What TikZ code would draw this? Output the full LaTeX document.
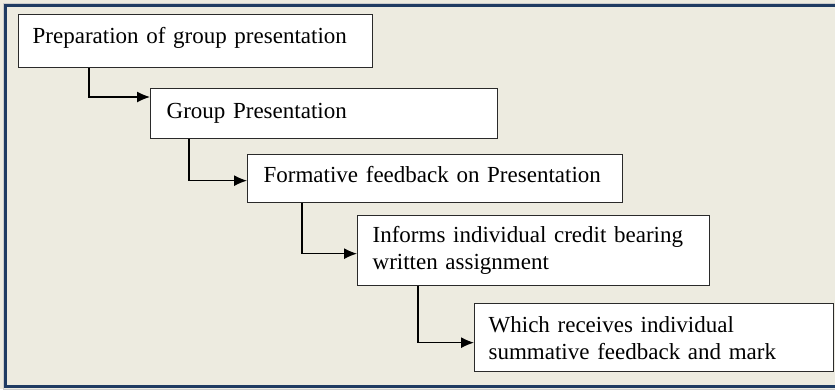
\documentclass[tikz,border=0pt]{standalone}
\usepackage{fontspec}
\setmainfont{Liberation Serif}
\usetikzlibrary{arrows.meta}
\definecolor{bgtan}{HTML}{EDEBE0}
\definecolor{frameblue}{HTML}{1F3B62}
\definecolor{boxline}{HTML}{2A2A2A}
\tikzset{
  stepbox/.style={draw=boxline, line width=1.3pt, fill=white, anchor=north west,
    align=left, inner ysep=0pt, font=\fontsize{23}{27}\selectfont},
  conn/.style={draw=black, line width=1.2pt, -{Latex[length=13pt,width=11pt]}},
}
\begin{document}
\begin{tikzpicture}[x=1pt,y=-1pt]
\useasboundingbox (0,0) rectangle (835,389);
\fill[bgtan] (0,0) rectangle (835,389);
\draw[gray!40, line width=1pt] (3,3) rectangle (845,389.5);
\draw[frameblue, line width=3pt] (5.5,5.5) rectangle (845,386.5);

\node[stepbox, minimum width=354pt, minimum height=53pt, text width=326pt, inner xsep=14pt,
  text height=16pt, text depth=11pt] (b1) at (18,14) {Preparation of group presentation};
\node[stepbox, minimum width=347pt, minimum height=50pt, text width=315pt, inner xsep=16pt,
  text height=16pt, text depth=6pt] (b2) at (150,88) {Group Presentation};
\node[stepbox, minimum width=375pt, minimum height=48pt, text width=343pt, inner xsep=16pt,
  text height=16pt, text depth=9pt] (b3) at (247,154) {Formative feedback on Presentation};
\node[stepbox, minimum width=352pt, minimum height=70pt, text width=322pt, inner xsep=15pt]
  (b4) at (357,215) {Informs individual credit bearing\\written assignment};
\node[stepbox, minimum width=359pt, minimum height=68pt, text width=331pt, inner xsep=14pt]
  (b5) at (474,303) {Which receives individual\\summative feedback and mark};

\draw[conn] ([xshift=71pt]b1.south west) |- ([yshift=-9pt]b2.north west);
\draw[conn] ([xshift=39pt]b2.south west) |- ([yshift=-2pt]b3.west);
\draw[conn] ([xshift=55pt]b3.south west) |- ([yshift=-3pt]b4.west);
\draw[conn] ([xshift=61pt]b4.south west) |- ([yshift=-5pt]b5.west);
\end{tikzpicture}
\end{document}
